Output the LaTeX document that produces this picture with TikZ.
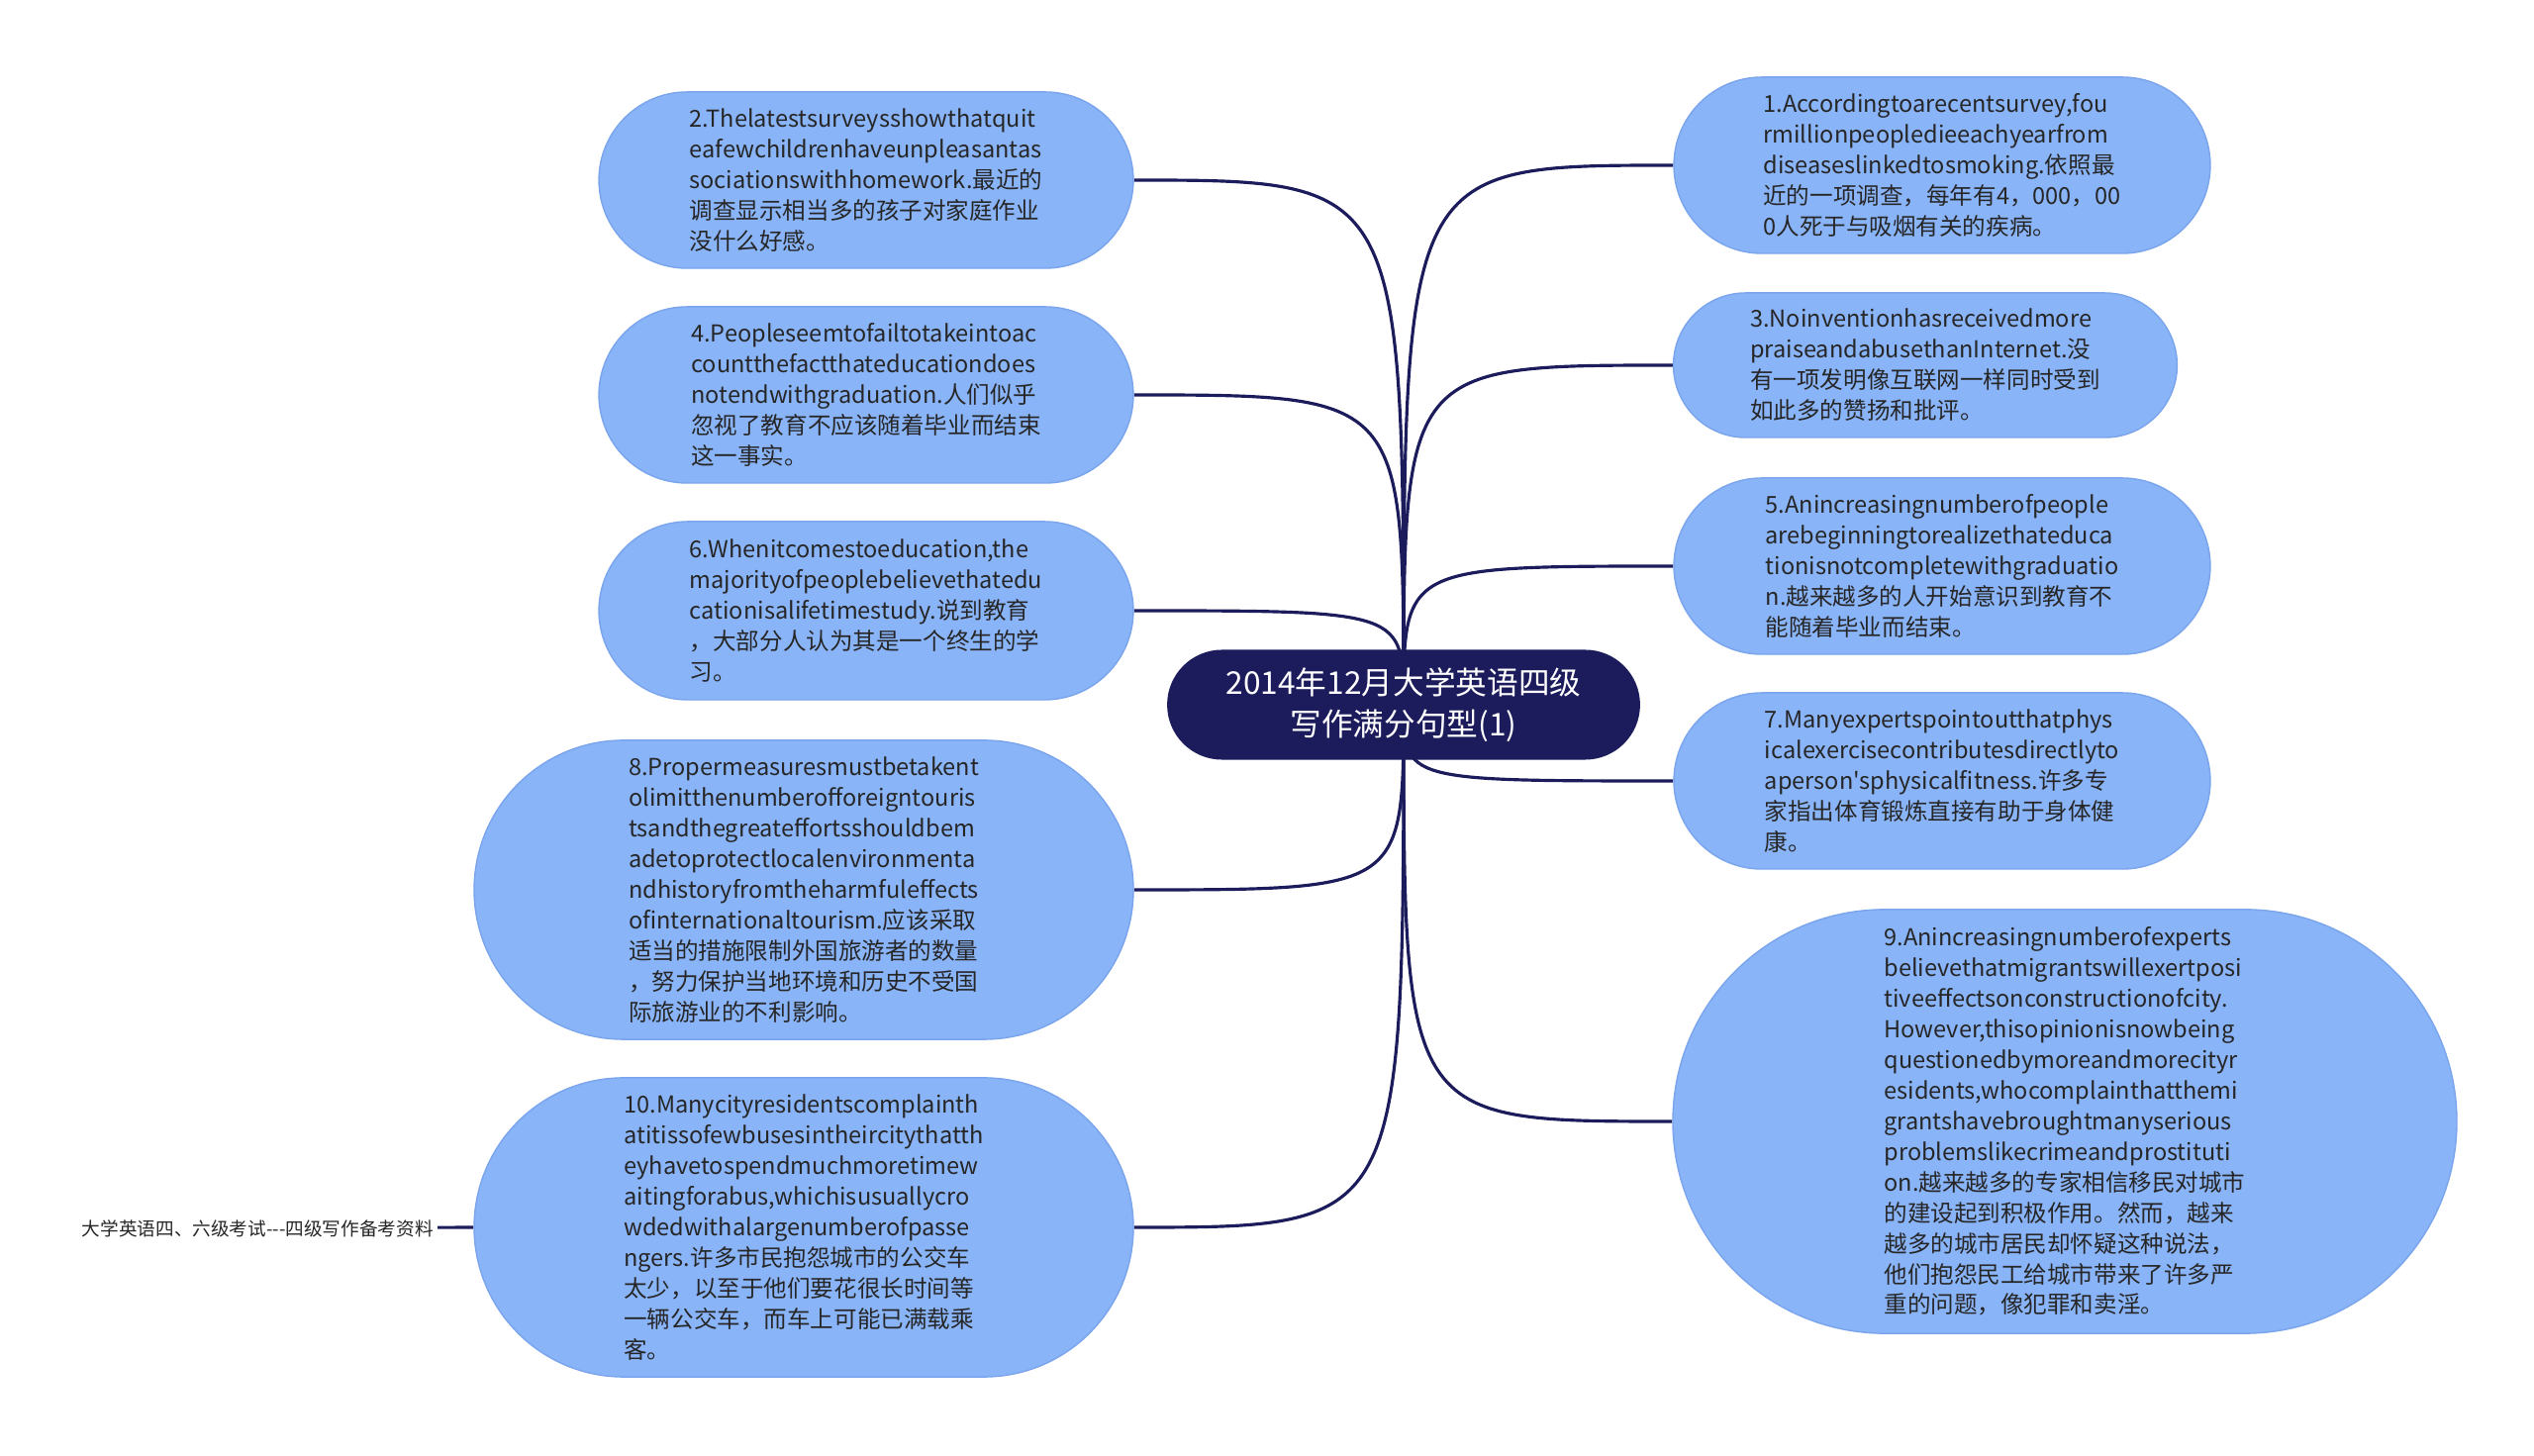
\documentclass[tikz,border=0pt]{standalone}
\usepackage{fontspec}
\setmainfont{Noto Sans CJK SC}[Ligatures=TeXOff]
\usepackage{tikz}
\usetikzlibrary{shapes.misc,positioning,backgrounds}
\definecolor{mmnavy}{RGB}{28,28,92}
\definecolor{mmblue}{RGB}{138,180,248}
\definecolor{mmedge}{RGB}{122,164,236}
\definecolor{mmtext}{RGB}{38,38,38}
\tikzstyle{topic} = [rounded rectangle, minimum width=5.01cm, minimum height=1.11cm, align=center, fill=mmnavy, text=white, font=\fontsize{9}{12}\selectfont]
\tikzstyle{sentence} = [rounded rectangle, align=left, fill=mmblue, draw=mmedge, line width=0.4pt, text=mmtext, font=\fontsize{6.7}{8.8}\selectfont]
\tikzstyle{small} = [sentence, minimum width=5.63cm, minimum height=1.78cm]
\tikzstyle{big} = [sentence, minimum width=6.89cm, minimum height=3.02cm]
\tikzstyle{source} = [anchor=east, inner sep=1pt, text=mmtext, font=\fontsize{5.3}{7}\selectfont]
\tikzstyle{link} = [line width=0.9pt, color=mmnavy]

\begin{document}
\begin{tikzpicture}[x=0.01cm, y=-0.01cm]
\useasboundingbox (0,0) rectangle (2560,1471);

% Centre topic
\node (root) [topic] at (1418,712) {2014年12月大学英语四级\\写作满分句型(1)};

% Left sentences
\node (n2) [small] at (875,182) {2.Thelatestsurveysshowthatquit\\eafewchildrenhaveunpleasantas\\sociationswithhomework.最近的\\调查显示相当多的孩子对家庭作业\\没什么好感。};
\node (n4) [small] at (875,399) {4.Peopleseemtofailtotakeintoac\\countthefactthateducationdoes\\notendwithgraduation.人们似乎\\忽视了教育不应该随着毕业而结束\\这一事实。};
\node (n6) [small, minimum height=1.8cm] at (875,617) {6.Whenitcomestoeducation,the\\majorityofpeoplebelievethatedu\\cationisalifetimestudy.说到教育\\，大部分人认为其是一个终生的学\\习。};
\node (n8) [big] at (812,899) {8.Propermeasuresmustbetakent\\olimitthenumberofforeigntouris\\tsandthegreateffortsshouldbem\\adetoprotectlocalenvironmenta\\ndhistoryfromtheharmfuleffects\\ofinternationaltourism.应该采取\\适当的措施限制外国旅游者的数量\\，努力保护当地环境和历史不受国\\际旅游业的不利影响。};
\node (n10) [big] at (812,1240) {10.Manycityresidentscomplainth\\atitissofewbusesintheircitythatth\\eyhavetospendmuchmoretimew\\aitingforabus,whichisusuallycro\\wdedwithalargenumberofpasse\\ngers.许多市民抱怨城市的公交车\\太少，以至于他们要花很长时间等\\一辆公交车，而车上可能已满载乘\\客。};

% Right sentences
\node (n1) [small, minimum width=5.65cm] at (1962,167) {1.Accordingtoarecentsurvey,fou\\rmillionpeopledieeachyearfrom\\diseaseslinkedtosmoking.依照最\\近的一项调查，每年有4，000，00\\0人死于与吸烟有关的疾病。};
\node (n3) [small, minimum width=5.32cm, minimum height=1.46cm] at (1945,369) {3.Noinventionhasreceivedmore\\praiseandabusethanInternet.没\\有一项发明像互联网一样同时受到\\如此多的赞扬和批评。};
\node (n5) [small, minimum width=5.65cm] at (1962,572) {5.Anincreasingnumberofpeople\\arebeginningtorealizethateduca\\tionisnotcompletewithgraduatio\\n.越来越多的人开始意识到教育不\\能随着毕业而结束。};
\node (n7) [small, minimum width=5.65cm] at (1962,789) {7.Manyexpertspointoutthatphys\\icalexercisecontributesdirectlyto\\aperson's{}physicalfitness.许多专\\家指出体育锻炼直接有助于身体健\\康。};
\node (n9) [sentence, minimum width=8.15cm, minimum height=4.28cm] at (2086,1133) {9.Anincreasingnumberofexperts\\believethatmigrantswillexertposi\\tiveeffectsonconstructionofcity.\\However,thisopinionisnowbeing\\questionedbymoreandmorecityr\\esidents,whocomplainthatthemi\\grantshavebroughtmanyserious\\problemslikecrimeandprostituti\\on.越来越多的专家相信移民对城市\\的建设起到积极作用。然而，越来\\越多的城市居民却怀疑这种说法，\\他们抱怨民工给城市带来了许多严\\重的问题，像犯罪和卖淫。};

% Source note
\node (src) [source] at (442,1241) {大学英语四、六级考试---四级写作备考资料};

% Branches
\begin{scope}[on background layer]
\foreach \n in {n1,n3,n5,n7,n9}
  \draw[link] (root.center) .. controls (root.center |- \n.west) .. (\n.west);
\foreach \n in {n2,n4,n6,n8,n10}
  \draw[link] (root.center) .. controls (root.center |- \n.east) .. (\n.east);
\draw[link] (src) -- (n10.west);
\end{scope}
\end{tikzpicture}
\end{document}
